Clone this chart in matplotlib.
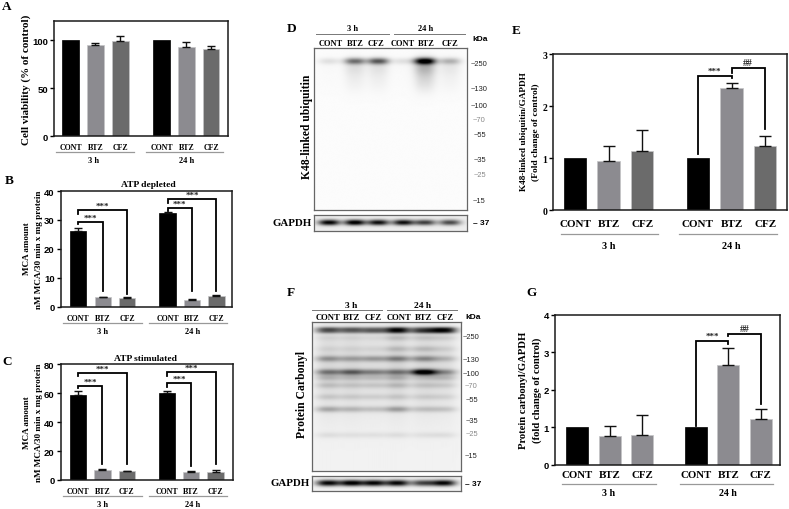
import numpy as np
import matplotlib
matplotlib.use("Agg")
import matplotlib.pyplot as plt
from matplotlib.lines import Line2D

W, H = 789, 510
SERIF = "Liberation Serif"
SANS = "Liberation Sans"

categories = ["CONT", "BTZ", "CFZ", "CONT", "BTZ", "CFZ"]
groups = ["3 h", "24 h"]
a_vals = [100, 94.6, 99.5, 100, 93, 90.5]
a_errs = [0, 2.3, 4.5, 0, 5, 3]
b_vals = [26.2, 3.3, 3.1, 32.3, 2.4, 3.8]
b_errs = [1.0, 0.15, 0.35, 0.4, 0.2, 0.3]
c_vals = [58.8, 7.2, 6.0, 60.5, 5.3, 5.8]
c_errs = [2.5, 0.4, 0.5, 1.1, 0.6, 1.0]
e_vals = [1, 0.94, 1.14, 1, 2.36, 1.23]
e_errs = [0, 0.30, 0.41, 0, 0.08, 0.19]
g_vals = [1, 0.78, 0.80, 1, 2.65, 1.22]
g_errs = [0, 0.26, 0.53, 0, 0.47, 0.27]

d_kda = ["~250", "~130", "~100", "~70", "~55", "~35", "~25", "~15"]
d_kda_y = [64, 89.7, 106.3, 120.3, 136, 160.3, 175.7, 201.7]
f_kda_y = [337.7, 360, 374.7, 386.7, 400.3, 421.3, 434.7, 457]

d_main = [0.10, 0.50, 0.60, 0.10, 1.00, 0.25]
d_smear = [0.01, 0.10, 0.09, 0.01, 0.26, 0.07]
d_gapdh = [0.95, 1.00, 0.90, 0.90, 0.70, 0.65]
f_gapdh = [0.95, 1.00, 0.95, 0.95, 0.70, 0.95]
f_bands = {
    0.045: [0.50, 0.45, 0.42, 0.70, 0.50, 0.70],
    0.063: [0.42, 0.38, 0.42, 0.65, 0.55, 0.65],
    0.105: [0.06, 0.06, 0.05, 0.15, 0.12, 0.10],
    0.180: [0.05, 0.05, 0.05, 0.14, 0.14, 0.08],
    0.246: [0.30, 0.25, 0.28, 0.38, 0.34, 0.18],
    0.336: [0.42, 0.52, 0.38, 0.42, 1.00, 0.36],
    0.374: [0.16, 0.14, 0.14, 0.18, 0.12, 0.16],
    0.425: [0.13, 0.11, 0.11, 0.15, 0.11, 0.10],
    0.503: [0.11, 0.10, 0.09, 0.11, 0.09, 0.08],
    0.586: [0.26, 0.20, 0.16, 0.30, 0.16, 0.15],
    0.760: [0.07, 0.06, 0.06, 0.07, 0.06, 0.07],
}
f_haze = [0.10, 0.10, 0.08, 0.11, 0.10, 0.08]

BLACK, GREY, DARK = "#000000", "#8c8b90", "#6b6b6b"
positions = [0, 1, 2, 3.66, 4.66, 5.66]

fig = plt.figure(figsize=(W / 100, H / 100), dpi=100, facecolor="white")


def axbox(l, t, r, b):
    return fig.add_axes([l / W, 1 - b / H, (r - l) / W, (b - t) / H])


def T(x, y, s, size=6.5, family=SERIF, weight="bold", rot=0, color="black", ha="center"):
    fig.text(x / W, 1 - y / H, s, fontsize=size, family=family, weight=weight,
             rotation=rot, color=color, ha=ha, va="center")


def rule(x0, x1, y, color="#999999", lw=0.9):
    fig.add_artist(Line2D([x0 / W, x1 / W], [1 - y / H, 1 - y / H], color=color, lw=lw))


def bars(box, xlim, ylim, yticks, vals, errs, colors, cat_size, tick_size, pad, cap):
    ax = axbox(*box)
    ax.bar(positions, vals, width=0.67, color=colors,
           edgecolor=["#000000", "#c4c4c6", "#c4c4c6"] * 2, linewidth=0.5)
    keep = [i for i, e in enumerate(errs) if e > 0]
    ax.errorbar([positions[i] for i in keep], [vals[i] for i in keep],
                yerr=[[0] * len(keep), [errs[i] for i in keep]], fmt="none", ecolor="#111111",
                elinewidth=1.0, capsize=cap, capthick=1.0)
    ax.set_xlim(*xlim)
    ax.set_ylim(*ylim)
    ax.set_yticks(yticks)
    ax.set_xticks(positions, categories, family=SERIF, weight="bold", fontsize=cat_size)
    ax.tick_params(axis="x", length=0, pad=pad)
    ax.tick_params(axis="y", length=3, width=1.0, pad=1.5, labelsize=tick_size)
    for lab in ax.get_yticklabels():
        lab.set_family(SANS if tick_size < 7 else SERIF)
        lab.set_weight("bold")
    for s in ax.spines.values():
        s.set_linewidth(1.1)
        s.set_color("#1a1a1a")
    return ax


def bracket(ax, x0, x1, y0, top, y1, label, lift=3.0, size=6.5):
    ax.plot([x0, x0, x1, x1], [y0, top, top, y1], color="black", lw=1.3,
            solid_joinstyle="miter", clip_on=False)
    ax.annotate(label, ((x0 + x1) / 2, top), xytext=(0, lift), textcoords="offset points",
                ha="center", va="center", fontsize=size, family=SERIF, weight="bold", color="#222222")


# ---------- A
axA = bars((54.3, 22, 228, 137.3), (-0.66, 6.34), (0, 120), [0, 50, 100], a_vals, a_errs,
           [BLACK, GREY, DARK] * 2, 5.7, 6.8, 5, 2.8)
T(26, 80, "Cell viability (% of control)", 8, rot=90)

# ---------- B
axB = bars((61, 192, 232.3, 307.7), (-0.71, 6.31), (0, 40), [0, 10, 20, 30, 40], b_vals, b_errs,
           [BLACK, GREY, DARK] * 2, 5.7, 6.8, 5, 2.8)
bracket(axB, 0, 1, 28.6, 29.2, 5.5, "***")
bracket(axB, 0, 2, 32, 33.5, 4.4, "***")
bracket(axB, 3.66, 4.66, 33.2, 34.1, 5.5, "***")
bracket(axB, 3.66, 5.66, 36, 37.2, 5.5, "***")
T(148, 185, "ATP depleted", 6.8)
T(27, 249, "MCA amount", 6.5, rot=90)
T(39, 250, "nM MCA/30 min x mg protein", 6.6, rot=90)

# ---------- C
axC = bars((61, 365.3, 233, 481), (-0.71, 6.38), (0, 80), [0, 20, 40, 60, 80], c_vals, c_errs,
           [BLACK, GREY, DARK] * 2, 5.7, 6.8, 5, 2.8)
bracket(axC, 0, 1, 63.6, 65.2, 11, "***")
bracket(axC, 0, 2, 71.7, 74, 11, "***")
bracket(axC, 3.66, 4.66, 64.6, 66.9, 10, "***")
bracket(axC, 3.66, 5.66, 71.7, 74.5, 11, "***")
T(145, 358.7, "ATP stimulated", 6.8)
T(27, 423, "MCA amount", 6.5, rot=90)
T(39, 422.7, "nM MCA/30 min x mg protein", 6.6, rot=90)

# ---------- E
axE = bars((553.3, 55.3, 786.7, 211.3), (-0.646, 6.3), (0, 3), [0, 1, 2, 3], e_vals, e_errs,
           [BLACK, GREY, DARK] * 2, 8, 7, 6.5, 4.2)
bracket(axE, 3.66, 4.66, 1.08, 2.59, 2.545, "***", lift=3.2)
bracket(axE, 4.66, 5.64, 2.65, 2.73, 1.56, "##", lift=4, size=7)
T(524, 131.7, "K48-linked ubiquitin/GAPDH", 6.7, rot=90)
T(535.7, 132, "(Fold change of control)", 6.8, rot=90)

# ---------- G
axG = bars((555, 315.7, 780, 466), (-0.688, 6.256), (0, 4), [0, 1, 2, 3, 4], g_vals, g_errs,
           [BLACK, GREY, GREY] * 2, 7.8, 6.8, 3.5, 4.2)
bracket(axG, 3.66, 4.66, 1.05, 3.31, 3.22, "***", lift=3.2)
bracket(axG, 4.66, 5.66, 3.42, 3.49, 1.62, "##", lift=4, size=7)
T(524, 390, "Protein carbonyl/GAPDH", 7.7, rot=90)
T(537.3, 390, "(fold change of control)", 7.7, rot=90)

# ---------- group rules and labels for the bar panels
for (x0, x1, x2, x3, yr, xg0, xg1, yg, size) in [
    (56, 134, 145.7, 223, 152.7, 94, 187, 161, 6),
    (63, 141.7, 149, 227, 324, 103, 193, 331.5, 6),
    (63, 141.7, 149, 227, 497, 103, 193, 505, 6),
    (560.7, 658, 679.3, 776.7, 235.3, 609, 731, 246.7, 7.4),
    (561.7, 655.7, 680, 773, 485.3, 609, 728, 493.5, 7.2),
]:
    rule(x0, x1, yr)
    rule(x2, x3, yr)
    T(xg0, yg, groups[0], size)
    T(xg1, yg, groups[1], size)


# ---------- blots
def lane_profile(x, c, w):
    return np.exp(-np.abs((x - c) / w) ** 2.5)


def blot(box, lanes, layers, bg, lane_w):
    l, t, r, b = box
    ax = axbox(l, t, r, b)
    nx, ny = int((r - l) * 2), int((b - t) * 2)
    x = np.linspace(0, 1, nx)[None, :]
    y = np.linspace(0, 1, ny)[:, None]
    img = np.zeros((ny, nx))
    for yc, sy, vals in layers:
        for c, v in zip(lanes, vals):
            img = img + v * lane_profile(x, c, lane_w) * np.exp(-((y - yc) / sy) ** 2)
    img = np.clip(bg - img, 0, 1)
    ax.imshow(img, cmap="gray", vmin=0, vmax=1, aspect="auto", extent=(0, 1, 1, 0), interpolation="bilinear")
    ax.set_xticks([])
    ax.set_yticks([])
    for s in ax.spines.values():
        s.set_color("#666666")
        s.set_linewidth(0.9)
    return ax


d_lanes = [0.098, 0.267, 0.42, 0.584, 0.726, 0.89]
f_lanes = [0.108, 0.265, 0.416, 0.573, 0.748, 0.888]
blot((314.3, 49.3, 466.7, 210.7), d_lanes,
     [(0.08, 0.02, d_main), (0.115, 0.055, d_smear), (0.2, 0.07, [v * 0.45 for v in d_smear])], 0.985, 0.07)
blot((314.3, 215.7, 466.7, 232), d_lanes, [(0.5, 0.17, d_gapdh)], 0.93, 0.07)
f_layers = [(k, 0.014 if k < 0.07 else 0.02, v) for k, v in f_bands.items()]
f_layers.append((0.3, 0.32, f_haze))
blot((312.3, 323.3, 460.7, 472.3), f_lanes, f_layers, 0.95, 0.085)
blot((312.3, 476.7, 460.7, 491.7), f_lanes, [(0.5, 0.2, f_gapdh)], 0.95, 0.08)

# blot D labels
T(353, 29, "3 h", 6)
T(425.7, 29, "24 h", 6)
rule(316, 389.3, 35, "#777777", 0.7)
rule(394, 465, 35, "#777777", 0.7)
for xp, s in zip([330.7, 355.7, 376, 402.7, 426.7, 450], categories):
    T(xp, 44, s, 6)
T(480, 40, "kDa", 6, SANS)
for yp, s, c in zip(d_kda_y, d_kda, ["#222", "#222", "#222", "#888", "#222", "#222", "#888", "#222"]):
    T(479.5, yp, s, 5.4, SANS, "normal", color=c)
T(481, 223.5, "– 37", 6, SANS)
T(306.7, 127.3, "K48-linked ubiquitin", 8.4, rot=90)
T(291.7, 224, "GAPDH", 7.8)

# blot F labels
T(351, 306, "3 h", 6.8)
T(422.3, 306, "24 h", 6.8)
rule(312.3, 381.7, 310.7, "#777777", 0.7)
rule(387.3, 456.7, 310.7, "#777777", 0.7)
for xp, s in zip([327.7, 352, 372.7, 399.3, 423.3, 444.7], categories):
    T(xp, 318.3, s, 6.2)
T(472.7, 317.7, "kDa", 6, SANS)
for yp, s, c in zip(f_kda_y, d_kda, ["#222", "#222", "#222", "#888", "#222", "#222", "#888", "#222"]):
    T(471.5, yp, s, 5.4, SANS, "normal", color=c)
T(473, 484.3, "– 37", 6, SANS)
T(301.7, 394, "Protein Carbonyl", 8.4, rot=90)
T(290, 484, "GAPDH", 7.8)

# panel letters
for xp, yp, s in [(7, 7, "A"), (9, 180.7, "B"), (7, 361.7, "C"), (292, 29, "D"),
                  (515.7, 30.7, "E"), (291, 293, "F"), (531.7, 292.7, "G")]:
    T(xp, yp, s, 9.5)

fig.savefig("out.png", dpi=100)
